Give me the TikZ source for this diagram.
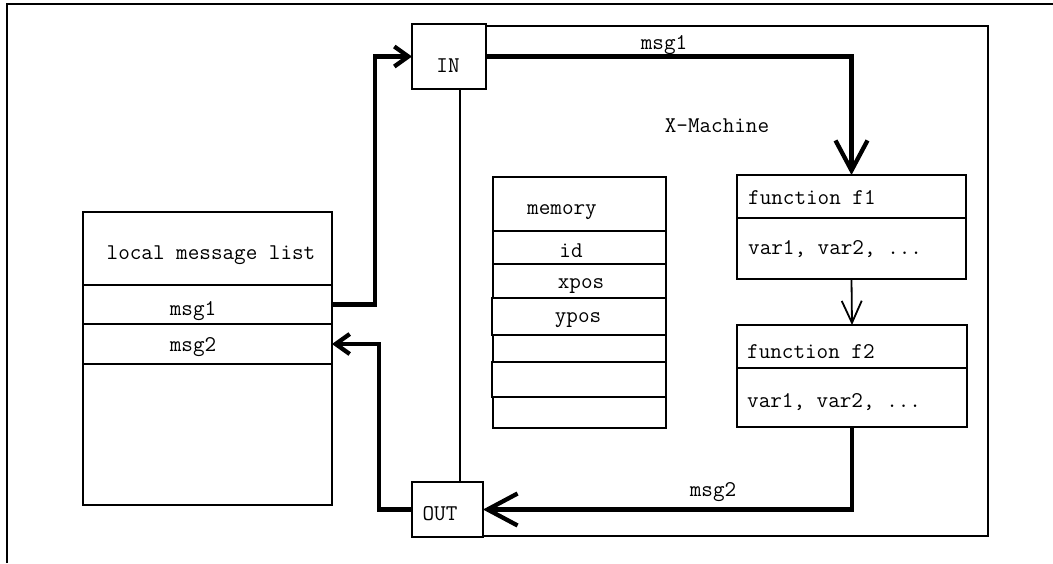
\documentclass[tikz,border=0pt]{standalone}
\usepackage{fontspec}
\setmonofont{Latin Modern Mono}
\usetikzlibrary{arrows.meta}
\tikzset{
  box/.style={draw, line width=1.8pt, fill=white, inner sep=0pt, outer sep=0pt, anchor=north west},
  lbl/.style={font=\ttfamily\fontsize{22.5}{24}\selectfont, inner sep=0pt},
  lbll/.style={lbl, anchor=west},
  thickflow/.style={line width=4.3pt},
  thinflow/.style={line width=1.8pt},
  bighead/.style={-{Straight Barb[length=30pt,width=32pt]}},
  smallhead/.style={-{Straight Barb[length=14pt,width=20pt]}},
  midhead/.style={-{Straight Barb[length=22pt,width=20pt]}},
}
\begin{document}
\begin{tikzpicture}[x=1pt,y=-1pt]
\useasboundingbox (0,0) rectangle (1053,563);
% frame
\draw[line width=1.5pt] (7,563) -- (7,4) -- (1053,4);

% X-Machine box
\node[box, minimum width=528pt, minimum height=510pt] (xm) at (460,26) {};
\node[lbl] (xmlabel) at (717,126) {X-Machine};

% local message list
\node[box, minimum width=249pt, minimum height=293pt] (list) at (83,212) {};
\node[box, minimum width=249pt, minimum height=39pt] (lrow1) at (83,285) {};
\node[box, minimum width=249pt, minimum height=40pt] (lrow2) at (83,324) {};
\node[lbl] (listlabel) at (211,255) {local message list};
\node[lbl] (lmsg1) at (193,311) {msg1};
\node[lbl] (lmsg2) at (193,347) {msg2};

% IN / OUT
\node[box, minimum width=74pt, minimum height=65pt] (in) at (412,24) {};
\node[lbl] (inlabel) at (448,66) {IN};
\node[box, minimum width=71pt, minimum height=55pt] (out) at (412,482) {};
\node[lbl] (outlabel) at (440,514) {OUT};

% memory
\node[box, minimum width=173pt, minimum height=54pt] (m0) at (493,177) {};
\node[box, minimum width=173pt, minimum height=33pt] (m1) at (493,231) {};
\node[box, minimum width=173pt, minimum height=34pt] (m2) at (493,264) {};
\node[box, minimum width=174pt, minimum height=37pt] (m3) at (492,298) {};
\node[box, minimum width=173pt, minimum height=27pt] (m4) at (493,335) {};
\node[box, minimum width=174pt, minimum height=35pt] (m5) at (492,362) {};
\node[box, minimum width=173pt, minimum height=31pt] (m6) at (493,397) {};
\node[lbl] (memlabel) at (562,212) {memory};
\node[lbl] (idlabel) at (571,251) {id};
\node[lbl] (xposlabel) at (581,286) {xpos};
\node[lbl] (yposlabel) at (578,320) {ypos};

% functions
\node[box, minimum width=229pt, minimum height=104pt] (f1) at (737,175) {};
\node[box, minimum width=229pt, minimum height=43pt] (f1h) at (737,175) {};
\node[lbll] (f1label) at (748,198) {function f1};
\node[lbll] (f1vars) at (748,249) {var1, var2, ...};
\node[box, minimum width=230pt, minimum height=102pt] (f2) at (737,325) {};
\node[box, minimum width=230pt, minimum height=43pt] (f2h) at (737,325) {};
\node[lbll] (f2label) at (747,352) {function f2};
\node[lbll] (f2vars) at (747,402) {var1, var2, ...};

% connectors
\draw[thickflow, smallhead] (lrow1.east) -- ++(43,0) |- (in.west);
\draw[thickflow, smallhead] (out.west) -- ++(-33,0) |- (lrow2.east);
\draw[thickflow, bighead] (in.east) -| (f1.north);
\draw[thinflow, midhead] (f1.south) -- (f2.north);
\draw[thickflow, bighead] (f2.south) |- (out.east);

\node[lbl] (msg1label) at (664,45) {msg1};
\node[lbl] (msg2label) at (713,492) {msg2};
\end{tikzpicture}
\end{document}
